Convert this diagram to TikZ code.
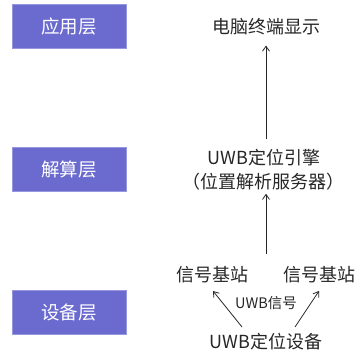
\documentclass[tikz,border=0pt]{standalone}
\usepackage{fontspec}
\setmainfont{Noto Sans CJK SC}
\usetikzlibrary{arrows.meta}
\definecolor{layerblue}{HTML}{6A6ACF}
\definecolor{txt}{HTML}{262626}
\tikzset{
  layerbox/.style={fill=layerblue, draw=layerblue!70!white, line width=0.6pt, minimum width=114pt, minimum height=44pt, inner sep=0pt, text=white, font=\fontsize{18.5}{22}\selectfont},
  lbl/.style={text=txt, inner sep=0pt, font=\fontsize{18}{21}\selectfont},
  small/.style={text=txt, inner sep=0pt, font=\fontsize{14.5}{17}\selectfont},
  conn/.style={-{Straight Barb[length=5pt,width=7pt]}, line width=0.8pt, draw=txt}
}
\begin{document}
\begin{tikzpicture}[x=1pt,y=-1pt]
\useasboundingbox (0,0) rectangle (358,352);
\node[layerbox] (app) at (69,26) {应用层};
\node[layerbox] (calc) at (69,169.5) {解算层};
\node[layerbox] (dev) at (69,312.5) {设备层};

\node[lbl] (pc) at (266,27) {电脑终端显示};
\node[lbl] (eng1) at (264,158) {UWB定位引擎};
\node[lbl] (eng2) at (263,182) {（位置解析服务器）};
\node[lbl] (bs1) at (212,275) {信号基站};
\node[lbl] (bs2) at (319,275) {信号基站};
\node[small] (sig) at (266,303) {UWB信号};
\node[lbl] (uwb) at (266,342) {UWB定位设备};

\draw[conn] (eng1.north -| pc.south) ++(0,-10) coordinate (a1s) -- ([yshift=-10pt]pc.south);
\draw[conn] ([yshift=12pt]bs1.north -| pc.south) coordinate (a2s) -- ([yshift=-3pt]eng2.south -| pc.south);
\coordinate (l1) at (242,327);
\coordinate (l2) at (213,291);
\coordinate (r1) at (295,327);
\coordinate (r2) at (319,291);
\draw[conn] (l1) -- (l2);
\draw[conn] (r1) -- (r2);
\end{tikzpicture}
\end{document}
